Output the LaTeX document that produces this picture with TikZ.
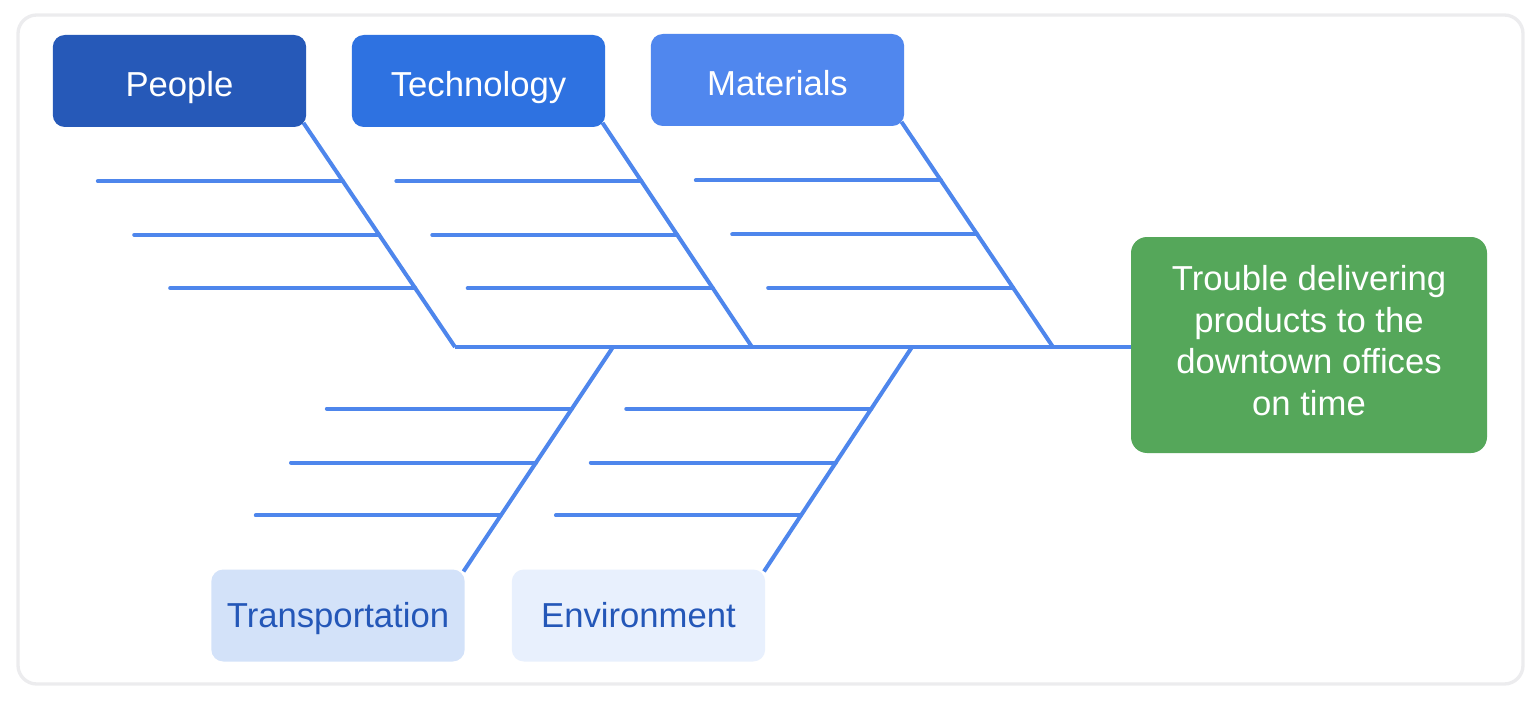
\documentclass[tikz,border=0pt]{standalone}
\usepackage{fontspec}
\setmainfont{Liberation Sans}
\usetikzlibrary{calc,backgrounds}

\definecolor{peopleblue}{RGB}{38,89,184}
\definecolor{techblue}{RGB}{46,114,225}
\definecolor{matblue}{RGB}{80,135,238}
\definecolor{bonecol}{RGB}{78,134,236}
\definecolor{transfill}{RGB}{211,226,249}
\definecolor{envfill}{RGB}{232,240,253}
\definecolor{labelblue}{RGB}{36,87,184}
\definecolor{effectgreen}{RGB}{85,167,90}
\definecolor{framegray}{RGB}{236,236,238}

\tikzset{
  catbox/.style={rounded corners=9pt, minimum width=190pt, minimum height=69pt,
    inner sep=0pt, text depth=0pt,
    font=\fontsize{26}{31}\selectfont},
  topcat/.style={catbox, fill=#1, text=white, text height=24pt},
  botcat/.style={catbox, fill=#1, text=labelblue, text height=17.6pt},
  effectbox/.style={rounded corners=12pt, fill=effectgreen, text=white,
    minimum width=267pt, minimum height=162pt, inner sep=0pt,
    align=center, text depth=7pt, font=\fontsize{26}{31.2}\selectfont},
  bone/.style={draw=bonecol, line width=3pt},
  rib/.style={draw=bonecol, line width=3pt, line cap=round},
}

\begin{document}
\begin{tikzpicture}[x=0.75pt, y=-0.75pt]
\useasboundingbox (0,0) rectangle (1540,702);

% outer card
\begin{scope}[on background layer]
  \draw[framegray, fill=white, line width=2.5pt, rounded corners=14pt]
    (18,15) rectangle (1523,684);
\end{scope}

% cause categories and effect
\node[topcat=peopleblue] (people) at (179.5,81) {People};
\node[topcat=techblue] (tech) at (478.5,81) {Technology};
\node[topcat=matblue] (mat) at (777.5,80) {Materials};
\node[botcat=transfill] (trans) at (338,615.5) {Transportation};
\node[botcat=envfill] (env) at (638.5,615.5) {Environment};
\node[effectbox] (effect) at (1309,345)
  {Trouble delivering\\products to the\\downtown offices\\on time};

% joints on the spine
\coordinate (pj) at (455,347);
\coordinate (tj) at (752,347);
\coordinate (mj) at (1053,347);
\coordinate (trj) at (613,347);
\coordinate (ej) at (912,347);

\begin{scope}[on background layer]
  % spine
  \draw[bone] (pj) -- (pj -| effect.west);
  % main bones, starting just inside the rounded corners
  \draw[bone] ($(pj)!1.02!(people.south east)$) -- (pj);
  \draw[bone] ($(tj)!1.02!(tech.south east)$) -- (tj);
  \draw[bone] ($(mj)!1.02!(mat.south east)$) -- (mj);
  \draw[bone] ($(trj)!1.01!(trans.north east)$) -- (trj);
  \draw[bone] ($(ej)!1.01!(env.north east)$) -- (ej);
  % ribs on the upper bones
  \foreach \cat/\jn in {people/pj, tech/tj, mat/mj} {
    \foreach \t [count=\i] in {0.245,0.49,0.732} {
      \coordinate (\cat-r\i) at ($(\cat.south east)!\t!(\jn)$);
      \draw[rib] (\cat-r\i) -- ++(-245,0);
    }
  }
  % ribs on the lower bones
  \foreach \cat/\jn in {trans/trj, env/ej} {
    \foreach \t [count=\i] in {0.278,0.52,0.758} {
      \coordinate (\cat-r\i) at ($(\jn)!\t!(\cat.north east)$);
      \draw[rib] (\cat-r\i) -- ++(-245,0);
    }
  }
\end{scope}
\end{tikzpicture}
\end{document}
